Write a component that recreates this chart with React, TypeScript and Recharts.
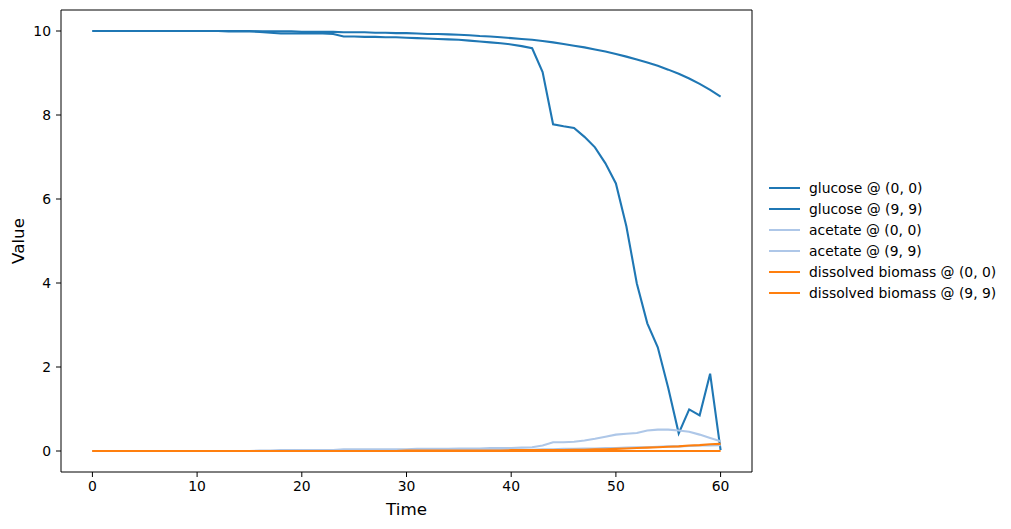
import { LineChart, Line, XAxis, YAxis, ReferenceLine, Label } from 'recharts'

const TIME = [
  0, 1, 2, 3, 4, 5, 6, 7, 8, 9, 10, 11, 12, 13, 14, 15, 16, 17, 18, 19, 20,
  21, 22, 23, 24, 25, 26, 27, 28, 29, 30, 31, 32, 33, 34, 35, 36, 37, 38, 39, 40,
  41, 42, 43, 44, 45, 46, 47, 48, 49, 50, 51, 52, 53, 54, 55, 56, 57, 58, 59, 60,
]

const GLUCOSE_00 = [
  10, 10, 10, 10, 10, 10, 10, 10, 10, 10, 10, 10, 10, 10, 10, 10,
  9.98, 9.96, 9.94, 9.94, 9.94, 9.94, 9.94, 9.93, 9.87, 9.87, 9.86, 9.86, 9.85, 9.85,
  9.84, 9.83, 9.82, 9.81, 9.8, 9.79, 9.77, 9.75, 9.73, 9.71, 9.68, 9.64, 9.59,
  9.02, 7.78, 7.73, 7.69, 7.48, 7.23, 6.85, 6.37, 5.35, 3.99, 3.04, 2.47, 1.5,
  0.42, 0.99, 0.85, 1.84, 0.02,
]

const GLUCOSE_99 = [
  10, 10, 10, 10, 10, 10, 10, 10, 10, 10, 10, 10, 10,
  9.99, 9.99, 9.99, 9.99, 9.99, 9.99, 9.99, 9.98, 9.98, 9.98, 9.98, 9.97, 9.97, 9.97,
  9.96, 9.96, 9.95, 9.95, 9.94, 9.93, 9.93, 9.92, 9.91, 9.9, 9.88, 9.87, 9.85, 9.83,
  9.81, 9.79, 9.76, 9.73, 9.69, 9.65, 9.61, 9.56, 9.51, 9.45, 9.39, 9.32, 9.25, 9.17,
  9.08, 8.98, 8.87, 8.74, 8.6, 8.44,
]

const ACETATE_00 = [
  0, 0, 0, 0, 0, 0, 0, 0, 0, 0, 0, 0, 0, 0, 0, 0,
  0.01, 0.01, 0.02, 0.02, 0.02, 0.02, 0.02, 0.02, 0.04, 0.04, 0.04, 0.04, 0.04, 0.04,
  0.04, 0.05, 0.05, 0.05, 0.05, 0.06, 0.06, 0.06, 0.07, 0.07, 0.07, 0.08, 0.09,
  0.13, 0.21, 0.21, 0.22, 0.25, 0.29, 0.34, 0.39, 0.41, 0.43, 0.49, 0.51, 0.51,
  0.49, 0.46, 0.39, 0.31, 0.23,
]

const ACETATE_99 = [
  0, 0, 0, 0, 0, 0, 0, 0, 0, 0, 0, 0, 0, 0, 0, 0, 0, 0, 0, 0,
  0.01, 0.01, 0.01, 0.01, 0.01, 0.01, 0.01, 0.01, 0.01, 0.01,
  0.02, 0.02, 0.02, 0.02, 0.02, 0.02, 0.02, 0.02, 0.02, 0.02,
  0.03, 0.03, 0.03, 0.04, 0.04, 0.05, 0.05, 0.06, 0.06, 0.07, 0.07,
  0.08, 0.09, 0.09, 0.1, 0.11, 0.11, 0.12, 0.13, 0.13, 0.14,
]

const BIOMASS_00 = [
  0, 0, 0, 0, 0, 0, 0, 0, 0, 0, 0, 0, 0, 0, 0, 0, 0, 0, 0, 0,
  0, 0, 0, 0, 0, 0, 0, 0, 0, 0,
  0.01, 0.01, 0.01, 0.01, 0.01, 0.01, 0.01, 0.01, 0.01, 0.01,
  0.02, 0.02, 0.02, 0.02, 0.02, 0.02, 0.03, 0.03, 0.04, 0.04, 0.05,
  0.06, 0.07, 0.08, 0.09, 0.1, 0.11, 0.13, 0.14, 0.16, 0.17,
]

const BIOMASS_99 = [
  0, 0, 0, 0, 0, 0, 0, 0, 0, 0, 0, 0, 0, 0, 0, 0, 0, 0, 0, 0,
  0, 0, 0, 0, 0, 0, 0, 0, 0, 0, 0, 0, 0, 0, 0, 0, 0, 0, 0, 0,
  0, 0, 0, 0, 0, 0, 0, 0, 0, 0, 0, 0, 0, 0, 0, 0, 0, 0, 0, 0, 0,
]

const X_TICKS = [0, 10, 20, 30, 40, 50, 60]
const Y_TICKS = [0, 2, 4, 6, 8, 10]

const SERIES = [
  { key: 'g00', name: 'glucose @ (0, 0)', color: '#1f77b4', values: GLUCOSE_00 },
  { key: 'g99', name: 'glucose @ (9, 9)', color: '#1f77b4', values: GLUCOSE_99 },
  { key: 'a00', name: 'acetate @ (0, 0)', color: '#aec7e8', values: ACETATE_00 },
  { key: 'a99', name: 'acetate @ (9, 9)', color: '#aec7e8', values: ACETATE_99 },
  { key: 'b00', name: 'dissolved biomass @ (0, 0)', color: '#ff7f0e', values: BIOMASS_00 },
  { key: 'b99', name: 'dissolved biomass @ (9, 9)', color: '#ff7f0e', values: BIOMASS_99 },
]

const FONT = '"DejaVu Sans", sans-serif'

export default function App() {
  const data = TIME.map((t, i) => {
    const row: Record<string, number> = { t }
    SERIES.forEach(s => { row[s.key] = s.values[i] })
    return row
  })

  const tickStyle = { fill: '#000', fontSize: 13.9, fontFamily: FONT }

  return (
    <div style={{ position: 'absolute', left: 0, top: 0, width: 1011, height: 529, background: '#fff', fontFamily: FONT }}>
      <LineChart width={1011} height={529} data={data} margin={{ top: 10, right: 259, bottom: 13, left: 0 }}>
        <XAxis
          dataKey="t" type="number" domain={[-3, 63]} ticks={X_TICKS} allowDataOverflow
          height={44} tickSize={5} tickMargin={4} tick={tickStyle}
          axisLine={{ stroke: '#000', strokeWidth: 1 }} tickLine={{ stroke: '#000', strokeWidth: 1 }}
        >
          <Label value="Time" position="insideBottom" offset={1} style={{ fill: '#000', fontSize: 16.7, fontFamily: FONT }} />
        </XAxis>
        <YAxis
          type="number" domain={[-0.5, 10.5]} ticks={Y_TICKS} allowDataOverflow
          width={61} tickSize={5} tickMargin={5} tick={tickStyle}
          axisLine={{ stroke: '#000', strokeWidth: 1 }} tickLine={{ stroke: '#000', strokeWidth: 1 }}
        >
          <Label
            content={({ viewBox }: any) => (
              <text
                x={viewBox.x + 24} y={viewBox.y + viewBox.height / 2}
                transform={`rotate(-90 ${viewBox.x + 24} ${viewBox.y + viewBox.height / 2})`}
                textAnchor="middle" fill="#000" fontSize={16.7} fontFamily={FONT}
              >Value</text>
            )}
          />
        </YAxis>
        <ReferenceLine y={10.5} stroke="#000" strokeWidth={1} />
        <ReferenceLine x={63} stroke="#000" strokeWidth={1} />
        {SERIES.map(s => (
          <Line key={s.key} dataKey={s.key} name={s.name} stroke={s.color} strokeWidth={2.1}
            dot={false} activeDot={false} isAnimationActive={false} type="linear" />
        ))}
      </LineChart>
      <div style={{ position: 'absolute', left: 769, top: 178, fontSize: 13.9, color: '#000' }}>
        {SERIES.map(s => (
          <div key={s.key} style={{ display: 'flex', alignItems: 'center', height: 20.9 }}>
            <span style={{ display: 'inline-block', width: 31, height: 2.1, background: s.color, marginRight: 9 }} />
            <span style={{ whiteSpace: 'nowrap' }}>{s.name}</span>
          </div>
        ))}
      </div>
    </div>
  )
}
